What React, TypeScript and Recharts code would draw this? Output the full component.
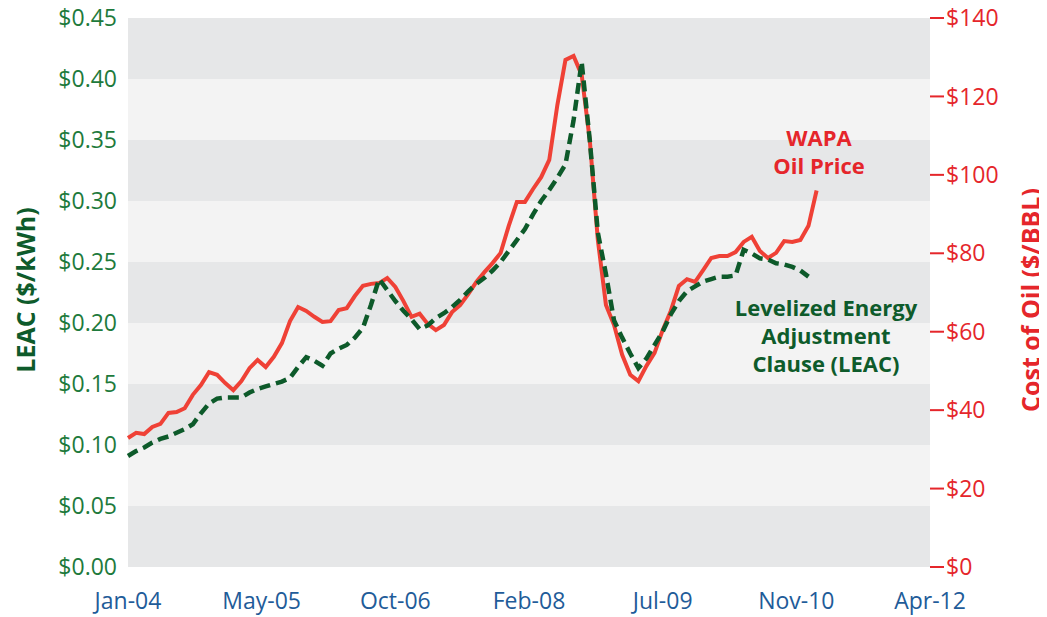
import React from 'react';
import { LineChart, Line, XAxis, YAxis, CartesianGrid } from 'recharts';

// Monthly data starting Jan-04 (index 0)
const oilPrice: number[] = [
  32.9, 34.2, 33.9, 35.7, 36.5, 39.3, 39.5, 40.5, 43.9, 46.4,
  49.7, 49.0, 46.9, 45.1, 47.4, 50.7, 52.8, 51.0, 53.6, 57.1,
  62.7, 66.3, 65.3, 63.8, 62.5, 62.7, 65.5, 66.0, 69.1, 71.7,
  72.2, 72.4, 73.7, 71.4, 67.8, 63.8, 64.6, 62.0, 60.4, 61.7,
  65.0, 66.8, 69.6, 72.7, 75.2, 77.5, 80.1, 87.0, 93.1, 93.1,
  96.4, 99.4, 103.8, 117.8, 129.3, 130.3, 125.5, 108.9, 83.4, 66.8,
  61.7, 54.1, 49.0, 47.4, 51.3, 54.6, 60.4, 65.3, 71.7, 73.4,
  72.7, 75.7, 78.8, 79.3, 79.3, 80.3, 82.9, 84.2, 80.6, 78.8,
  80.1, 83.1, 82.9, 83.4, 87.0, 96.0,
];

const leac: number[] = [
  0.091, 0.095, 0.098, 0.102, 0.105, 0.107, 0.110, 0.113, 0.117, 0.126,
  0.134, 0.138, 0.139, 0.139, 0.139, 0.143, 0.146, 0.148, 0.150, 0.152,
  0.155, 0.164, 0.172, 0.169, 0.165, 0.175, 0.179, 0.182, 0.188, 0.196,
  0.215, 0.236, 0.227, 0.218, 0.210, 0.203, 0.195, 0.198, 0.204, 0.208,
  0.213, 0.219, 0.226, 0.232, 0.237, 0.243, 0.250, 0.259, 0.268, 0.277,
  0.289, 0.300, 0.309, 0.319, 0.330, 0.366, 0.414, 0.350, 0.274, 0.240,
  0.202, 0.188, 0.175, 0.163, 0.171, 0.182, 0.193, 0.207, 0.218, 0.226,
  0.230, 0.234, 0.236, 0.238, 0.238, 0.239, 0.260, 0.257, 0.253, 0.252,
  0.249, 0.248, 0.246, 0.243, 0.238,
];

const xTickPositions: number[] = [0, 16.5, 33, 49.5, 66, 82.5, 99];
const xTickLabels: string[] = ['Jan-04', 'May-05', 'Oct-06', 'Feb-08', 'Jul-09', 'Nov-10', 'Apr-12'];
const leftTicks: number[] = [0, 0.05, 0.1, 0.15, 0.2, 0.25, 0.3, 0.35, 0.4, 0.45];
const rightTicks: number[] = [0, 20, 40, 60, 80, 100, 120, 140];

const data = oilPrice.map((v, i) => ({
  m: i,
  oil: v,
  leac: i < leac.length ? leac[i] : null,
}));

const FONT = '"Open Sans", "Noto Sans", sans-serif';
const RED = '#ef4136';
const RED_TEXT = '#e5262b';
const GREEN_LINE = '#0d5a2a';
const GREEN_TEXT = '#1e7a3c';
const GREEN_DARK = '#0e5b2b';
const BLUE = '#1f5c99';

export default function App() {
  return (
    <div style={{ position: 'relative', width: 1031, height: 617, marginTop: -8, fontFamily: FONT }}>
      <LineChart
        width={1031}
        height={617}
        data={data}
        margin={{ top: 18, right: 0, bottom: 0, left: 0 }}
      >
        <CartesianGrid
          yAxisId="left"
          vertical={false}
          stroke="none"
          horizontalFill={['#e6e7e8', '#f3f3f3']}
        />
        <XAxis
          dataKey="m"
          type="number"
          domain={[0, 99]}
          ticks={xTickPositions}
          tickFormatter={(v: number) => xTickLabels[xTickPositions.indexOf(v)] ?? ''}
          axisLine={false}
          tickLine={false}
          tickSize={0}
          tickMargin={26}
          height={50}
          interval={0}
          tick={{ fill: BLUE, fontSize: 23, fontFamily: FONT }}
        />
        <YAxis
          yAxisId="left"
          orientation="left"
          domain={[0, 0.45]}
          ticks={leftTicks}
          tickFormatter={(v: number) => '$' + v.toFixed(2)}
          axisLine={false}
          tickLine={false}
          tickSize={0}
          tickMargin={11}
          width={120}
          interval={0}
          tick={{ fill: GREEN_TEXT, fontSize: 23, fontFamily: FONT }}
        />
        <YAxis
          yAxisId="right"
          orientation="right"
          domain={[0, 140]}
          ticks={rightTicks}
          tickFormatter={(v: number) => '$' + v}
          axisLine={false}
          tickLine={{ stroke: RED_TEXT, strokeWidth: 2 }}
          tickSize={14}
          tickMargin={2}
          width={109}
          interval={0}
          tick={{ fill: RED_TEXT, fontSize: 23, fontFamily: FONT }}
        />
        <Line
          yAxisId="right"
          type="linear"
          dataKey="oil"
          stroke={RED}
          strokeWidth={4}
          dot={false}
          isAnimationActive={false}
        />
        <Line
          yAxisId="left"
          type="linear"
          dataKey="leac"
          stroke={GREEN_LINE}
          strokeWidth={4.5}
          strokeDasharray="11 6"
          dot={false}
          connectNulls={false}
          isAnimationActive={false}
        />
      </LineChart>

      <div
        style={{
          position: 'absolute', left: 17, top: 290, transform: 'translate(-50%, -50%) rotate(-90deg)',
          whiteSpace: 'nowrap', color: GREEN_DARK, fontWeight: 700, fontSize: 25, lineHeight: 1,
        }}
      >
        LEAC ($/kWh)
      </div>
      <div
        style={{
          position: 'absolute', left: 1022, top: 300, transform: 'translate(-50%, -50%) rotate(-90deg)',
          whiteSpace: 'nowrap', color: RED_TEXT, fontWeight: 700, fontSize: 25, lineHeight: 1,
        }}
      >
        Cost of Oil ($/BBL)
      </div>

      <div
        style={{
          position: 'absolute', left: 811, top: 151, transform: 'translate(-50%, -50%)',
          textAlign: 'center', whiteSpace: 'nowrap', color: RED_TEXT, fontWeight: 700, fontSize: 22, lineHeight: '28px',
        }}
      >
        WAPA<br />Oil Price
      </div>
      <div
        style={{
          position: 'absolute', left: 818, top: 335, transform: 'translate(-50%, -50%)',
          textAlign: 'center', whiteSpace: 'nowrap', color: GREEN_DARK, fontWeight: 700, fontSize: 22, lineHeight: '28px',
        }}
      >
        Levelized Energy<br />Adjustment<br />Clause (LEAC)
      </div>
    </div>
  );
}
